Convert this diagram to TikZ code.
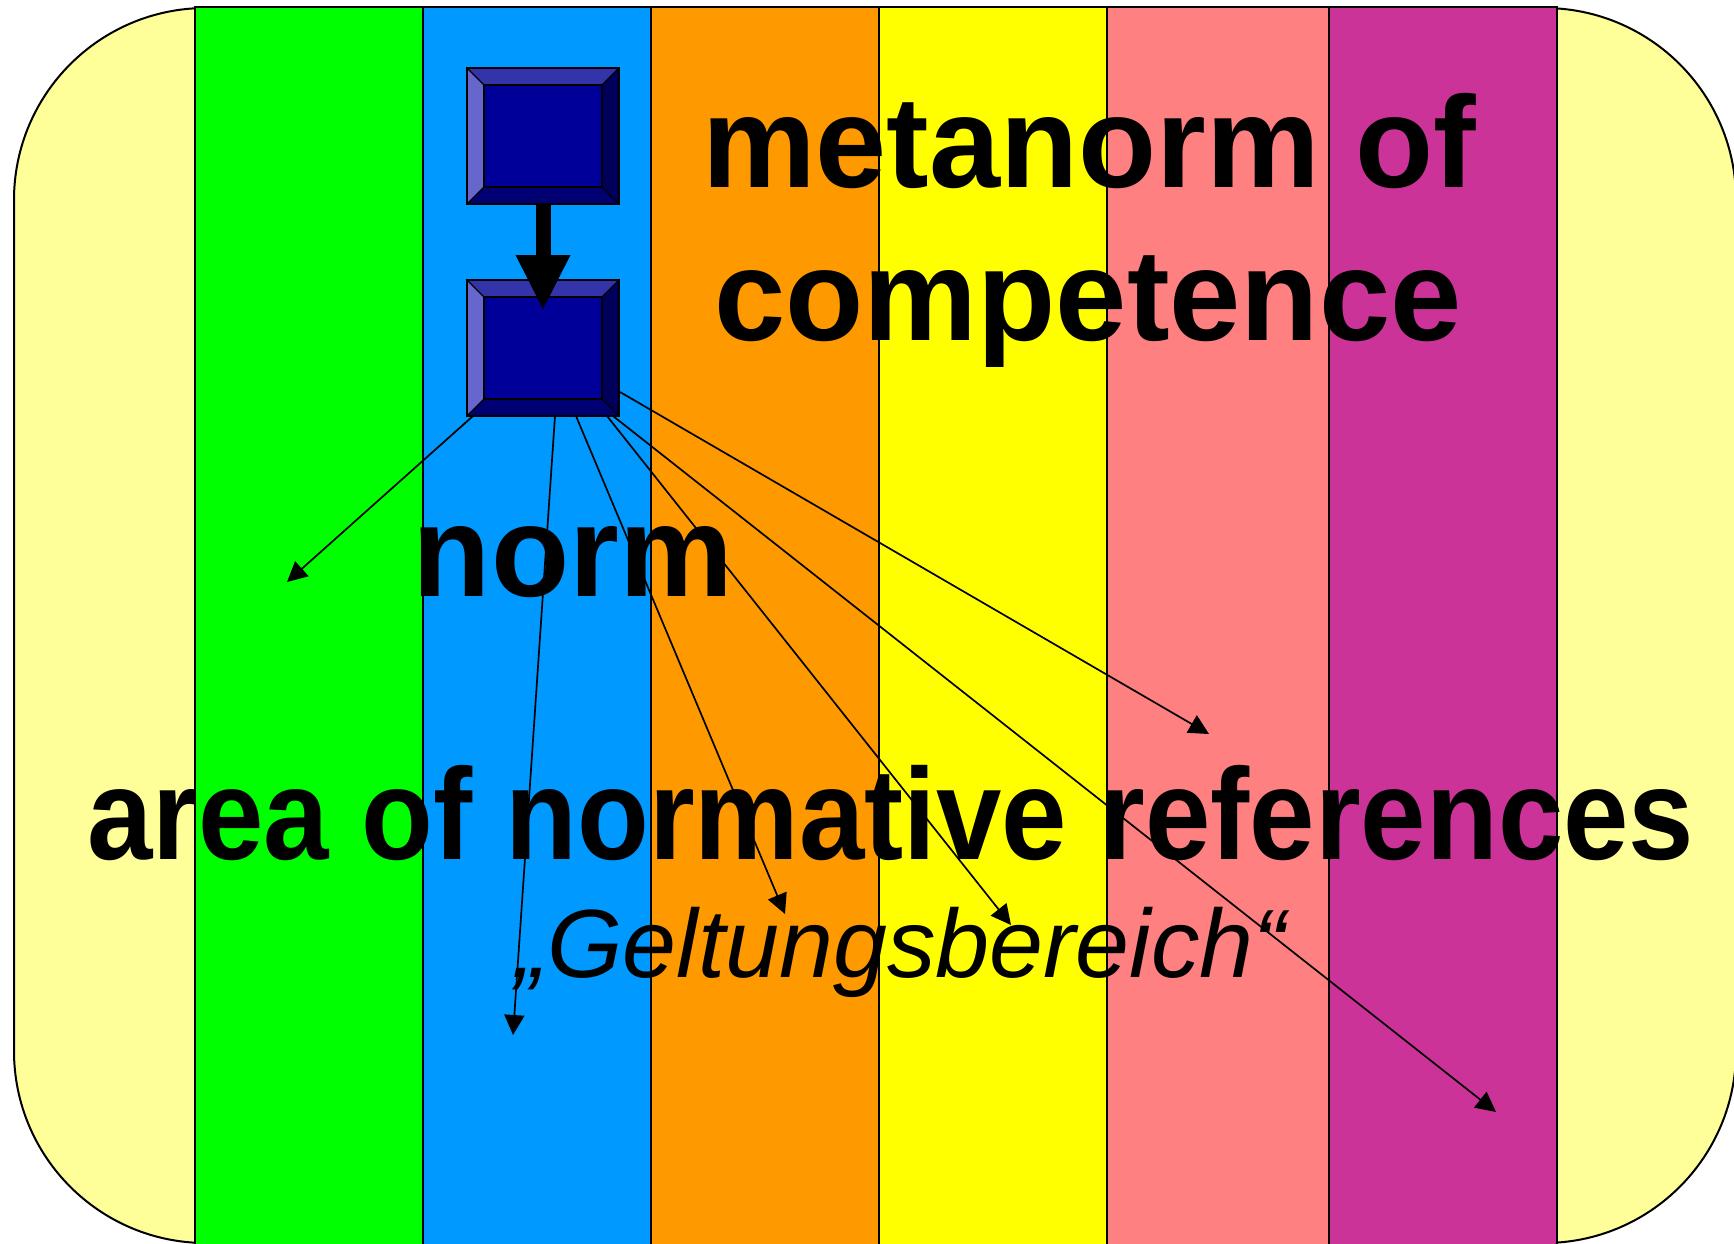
\documentclass[tikz,border=0pt]{standalone}
\usepackage{fontspec}
\setmainfont{Liberation Sans}
\usepackage{graphicx}
\usetikzlibrary{arrows.meta,calc}
\definecolor{paleY}{RGB}{255,255,153}
\definecolor{sGreen}{RGB}{0,255,0}
\definecolor{sBlue}{RGB}{0,153,255}
\definecolor{sOrange}{RGB}{255,153,0}
\definecolor{sYellow}{RGB}{255,255,0}
\definecolor{sPink}{RGB}{255,128,128}
\definecolor{sPurple}{RGB}{204,51,153}
\definecolor{bxMid}{RGB}{0,0,153}
\definecolor{bxTop}{RGB}{51,51,170}
\definecolor{bxLeft}{RGB}{102,102,204}
\definecolor{bxRight}{RGB}{0,0,90}
\definecolor{bxBottom}{RGB}{0,0,115}
\newcommand\drawbevel[1]{%
  \fill[bxTop] (#1.north west) -- (#1.north east) -- ($(#1.north east)+(-17,17)$) -- ($(#1.north west)+(17,17)$) -- cycle;
  \fill[bxLeft] (#1.north west) -- ($(#1.north west)+(17,17)$) -- ($(#1.south west)+(17,-17)$) -- (#1.south west) -- cycle;
  \fill[bxRight] (#1.north east) -- ($(#1.north east)+(-17,17)$) -- ($(#1.south east)+(-17,-17)$) -- (#1.south east) -- cycle;
  \fill[bxBottom] (#1.south west) -- ($(#1.south west)+(17,-17)$) -- ($(#1.south east)+(-17,-17)$) -- (#1.south east) -- cycle;
  \draw[line width=2.2pt,line join=miter] (#1.north west) rectangle (#1.south east);
  \draw[line width=1.6pt] ($(#1.north west)+(17,17)$) rectangle ($(#1.south east)+(-17,-17)$);
  \draw[line width=1.3pt] (#1.north west) -- ($(#1.north west)+(17,17)$)
     (#1.north east) -- ($(#1.north east)+(-17,17)$)
     (#1.south east) -- ($(#1.south east)+(-17,-17)$)
     (#1.south west) -- ($(#1.south west)+(17,-17)$);
}
\begin{document}
\begin{tikzpicture}[x=1pt,y=-1pt,
  normbox/.style={minimum width=152pt, minimum height=136pt, inner sep=0pt, outer sep=0pt, fill=bxMid},
  bigtxt/.style={font=\fontsize{130}{130}\selectfont\bfseries, inner sep=0pt, anchor=base},
  italtxt/.style={font=\fontsize{97}{97}\selectfont\itshape, inner sep=0pt, anchor=base west},
  stripe/.style={draw=black, line width=1.2pt},
  thinarrow/.style={line width=1.7pt, -{Triangle[width=20pt,length=20pt]}},
  bigarrow/.style={line width=15pt, -{Triangle[width=55pt,length=54pt,line width=0pt]}}]
\useasboundingbox (0,0) rectangle (1734,1244);
% background rounded panel
\draw[fill=paleY, line width=2pt, rounded corners=192pt] (14,8) rectangle (1736,1243);
% stripes
\draw[stripe, fill=sGreen]  (195,7) rectangle (423,1262);
\draw[stripe, fill=sBlue]   (423,7) rectangle (651,1262);
\draw[stripe, fill=sOrange] (651,7) rectangle (879,1262);
\draw[stripe, fill=sYellow] (879,7) rectangle (1107,1262);
\draw[stripe, fill=sPink]   (1107,7) rectangle (1329,1262);
\draw[stripe, fill=sPurple] (1329,7) rectangle (1557,1262);
% texts
\node[bigtxt] (t1) at (1089,187) {\scalebox{0.983}[1]{metanorm of}};
\node[bigtxt] (t2) at (1088,340) {\scalebox{0.985}[1]{competence}};
\node[bigtxt] (t3) at (573,596) {\scalebox{0.985}[1]{norm}};
\node[bigtxt] (t4) at (891,859) {\scalebox{0.904}[1]{area of normative references}};
\node[italtxt] (t5) at (515,977) {„Geltungsbereich“};
% boxes
\node[normbox] (b1) at (543,136) {};
\node[normbox] (b2) at (543,348) {};
\drawbevel{b1}
\drawbevel{b2}
% arrow metanorm -> norm
\draw[bigarrow] (b1.south) -- ($(b2.north)+(0,29)$);
% targets
\coordinate (e1) at (287,582);
\coordinate (e2) at (513,1035);
\coordinate (e3) at (785,914);
\coordinate (e4) at (1011,925);
\coordinate (e5) at (1496,1112);
\coordinate (e6) at (1209,734);
\draw[thinarrow] ($(b2.south west)+(6,0)$) -- (e1);
\draw[thinarrow] ($(b2.south)+(12,0)$) -- (e2);
\draw[thinarrow] ($(b2.south)+(33,0)$) -- (e3);
\draw[thinarrow] ($(b2.south)+(64,0)$) -- (e4);
\draw[thinarrow] ($(b2.south)+(70,0)$) -- (e5);
\draw[thinarrow] ($(b2.east)+(1,44)$) -- (e6);
\end{tikzpicture}
\end{document}
